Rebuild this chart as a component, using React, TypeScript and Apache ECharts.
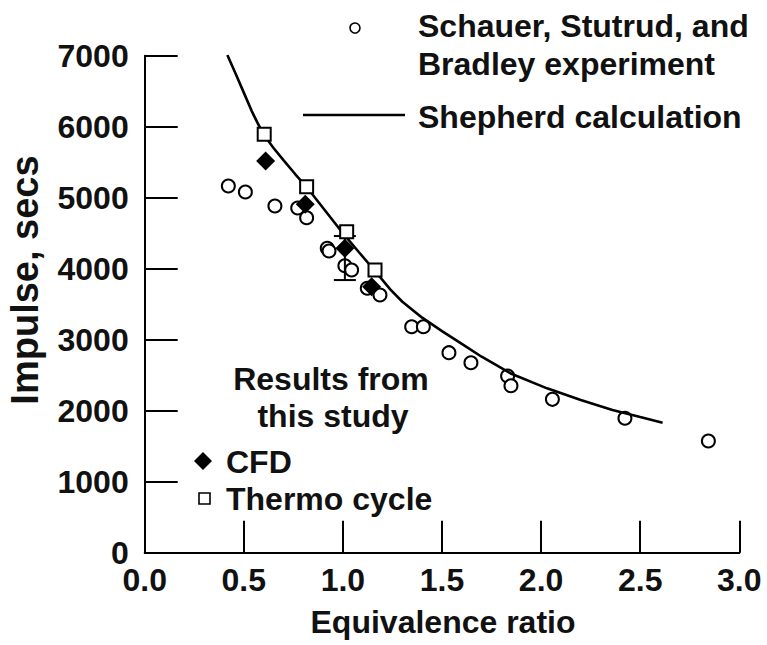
import React, { useEffect, useRef } from "react";
import * as echarts from "echarts";

// Schauer, Stutrud, and Bradley experiment (open circles)
const expX = [0.422, 0.508, 0.657, 0.772, 0.817, 0.921, 0.93, 1.01, 1.044, 1.123, 1.187, 1.347, 1.406, 1.535, 1.646, 1.831, 1.848, 2.057, 2.423, 2.844];
const expY = [5165, 5080, 4883, 4855, 4718, 4287, 4249, 4042, 3982, 3724, 3630, 3183, 3183, 2817, 2676, 2489, 2352, 2160, 1893, 1573];

// Shepherd calculation (solid curve)
const calcX = [0.417, 0.46, 0.5, 0.54, 0.57, 0.6, 0.65, 0.7, 0.76, 0.82, 0.91, 1.0, 1.08, 1.16, 1.24, 1.3, 1.4, 1.5, 1.6, 1.7, 1.85, 2.03, 2.2, 2.36, 2.5, 2.613];
const calcY = [7010, 6740, 6480, 6220, 6050, 5890, 5700, 5530, 5330, 5140, 4820, 4500, 4235, 3975, 3705, 3535, 3310, 3120, 2940, 2760, 2520, 2315, 2150, 2010, 1910, 1831];

// Results from this study
const cfdX = [0.61, 0.81, 1.01, 1.145];
const cfdY = [5517, 4907, 4287, 3746];
const thermoX = [0.603, 0.817, 1.019, 1.162];
const thermoY = [5893, 5155, 4521, 3982];

// Error bar on the CFD point at phi = 1.0: [x, low, high]
const errX = [1.01];
const errLow = [3840];
const errHigh = [4460];

const xTicks = [0, 0.5, 1.0, 1.5, 2.0, 2.5, 3.0];
const yTicks = [0, 1000, 2000, 3000, 4000, 5000, 6000, 7000];

const FONT = "'Liberation Sans', Arial, Helvetica, sans-serif";
const FS = 32;
const FW = "bold";
const INK = "#111";
const F = `${FW} ${FS}px ${FONT}`;
const FY = `${FW} 38px ${FONT}`;

export default function App() {
  const ref = useRef<HTMLDivElement>(null);

  useEffect(() => {
    document.body.style.margin = "0";
    if (!ref.current) return;
    const chart = echarts.init(ref.current, null, { renderer: "svg" });

    const zip = (xs: number[], ys: number[]) => xs.map((x, i) => [x, ys[i]]);

    const option: any = {
      animation: false,
      backgroundColor: "#fff",
      grid: { left: 144.7, right: 27.7, top: 55.7, bottom: 92.3, containLabel: false },
      xAxis: {
        type: "value",
        min: xTicks[0],
        max: xTicks[xTicks.length - 1],
        interval: 0.5,
        axisLine: { show: true, onZero: false, lineStyle: { color: "#000", width: 2 } },
        axisTick: { show: true, inside: true, length: 32, lineStyle: { color: "#000", width: 2 } },
        splitLine: { show: false },
        axisLabel: {
          margin: 11,
          fontSize: FS,
          fontWeight: FW,
          fontFamily: FONT,
          color: INK,
          formatter: (v: number) => v.toFixed(1),
        },
      },
      yAxis: {
        type: "value",
        min: yTicks[0],
        max: yTicks[yTicks.length - 1],
        interval: 1000,
        axisLine: { show: true, onZero: false, lineStyle: { color: "#000", width: 2 } },
        axisTick: { show: true, inside: true, length: 33, lineStyle: { color: "#000", width: 2 } },
        splitLine: { show: false },
        axisLabel: {
          margin: 16,
          fontSize: FS,
          fontWeight: FW,
          fontFamily: FONT,
          color: INK,
          formatter: (v: number) => String(v),
        },
      },
      series: [
        {
          name: "Schauer, Stutrud, and Bradley experiment",
          type: "scatter",
          data: zip(expX, expY),
          symbol: "circle",
          symbolSize: 13,
          itemStyle: { color: "#fff", borderColor: "#000", borderWidth: 2, opacity: 1 },
          z: 2,
        },
        {
          name: "Shepherd calculation",
          type: "line",
          data: zip(calcX, calcY),
          showSymbol: false,
          symbol: "none",
          smooth: false,
          lineStyle: { color: "#000", width: 2.6 },
          z: 3,
        },
        {
          name: "Error bar",
          type: "custom",
          data: errX.map((x, i) => [x, errLow[i], errHigh[i]]),
          encode: { x: 0, y: [1, 2] },
          renderItem: (params: any, api: any) => {
            const x = api.value(0);
            const lo = api.coord([x, api.value(1)]);
            const hi = api.coord([x, api.value(2)]);
            const hw = 11;
            const st = { stroke: "#000", lineWidth: 2 };
            return {
              type: "group",
              children: [
                { type: "line", shape: { x1: lo[0], y1: lo[1], x2: hi[0], y2: hi[1] }, style: st },
                { type: "line", shape: { x1: lo[0] - hw, y1: lo[1], x2: lo[0] + hw, y2: lo[1] }, style: st },
                { type: "line", shape: { x1: hi[0] - hw, y1: hi[1], x2: hi[0] + hw, y2: hi[1] }, style: st },
              ],
            };
          },
          z: 4,
        },
        {
          name: "Thermo cycle",
          type: "scatter",
          data: zip(thermoX, thermoY),
          symbol: "rect",
          symbolSize: 13,
          itemStyle: { color: "#fff", borderColor: "#000", borderWidth: 2, opacity: 1 },
          z: 5,
        },
        {
          name: "CFD",
          type: "scatter",
          data: zip(cfdX, cfdY),
          symbol: "diamond",
          symbolSize: [19, 19],
          itemStyle: { color: "#000", borderColor: "#000", borderWidth: 0, opacity: 1 },
          z: 6,
        },
      ],
      graphic: [
        // axis names
        {
          type: "text",
          x: 443,
          y: 622,
          style: { text: "Equivalence ratio", font: F, fill: INK, align: "center", verticalAlign: "middle" },
        },
        {
          type: "text",
          x: 25,
          y: 280,
          rotation: Math.PI / 2,
          style: { text: "Impulse, secs", font: FY, fill: INK, align: "center", verticalAlign: "middle" },
        },
        // top legend
        {
          type: "circle",
          shape: { cx: 355, cy: 28, r: 5 },
          style: { fill: "#fff", stroke: "#000", lineWidth: 1.6 },
        },
        {
          type: "text",
          x: 418,
          y: 26,
          style: { text: "Schauer, Stutrud, and", font: F, fill: INK, align: "left", verticalAlign: "middle" },
        },
        {
          type: "text",
          x: 418,
          y: 64,
          style: { text: "Bradley experiment", font: F, fill: INK, align: "left", verticalAlign: "middle" },
        },
        {
          type: "line",
          shape: { x1: 303, y1: 115, x2: 405, y2: 115 },
          style: { stroke: "#000", lineWidth: 2.6 },
        },
        {
          type: "text",
          x: 418,
          y: 117,
          style: { text: "Shepherd calculation", font: F, fill: INK, align: "left", verticalAlign: "middle" },
        },
        // inner legend
        {
          type: "text",
          x: 331,
          y: 379,
          style: { text: "Results from", font: F, fill: INK, align: "center", verticalAlign: "middle" },
        },
        {
          type: "text",
          x: 333,
          y: 416,
          style: { text: "this study", font: F, fill: INK, align: "center", verticalAlign: "middle" },
        },
        {
          type: "polygon",
          shape: { points: [[203, 452], [212, 461], [203, 470], [194, 461]] },
          style: { fill: "#000" },
        },
        {
          type: "text",
          x: 226,
          y: 462,
          style: { text: "CFD", font: F, fill: INK, align: "left", verticalAlign: "middle" },
        },
        {
          type: "rect",
          shape: { x: 199, y: 493, width: 11, height: 11 },
          style: { fill: "#fff", stroke: "#000", lineWidth: 1.6 },
        },
        {
          type: "text",
          x: 226,
          y: 499,
          style: { text: "Thermo cycle", font: F, fill: INK, align: "left", verticalAlign: "middle" },
        },
      ],
    };

    chart.setOption(option);
    return () => chart.dispose();
  }, []);

  return <div ref={ref} style={{ position: "absolute", left: 0, top: 0, width: 767, height: 645 }} />;
}
